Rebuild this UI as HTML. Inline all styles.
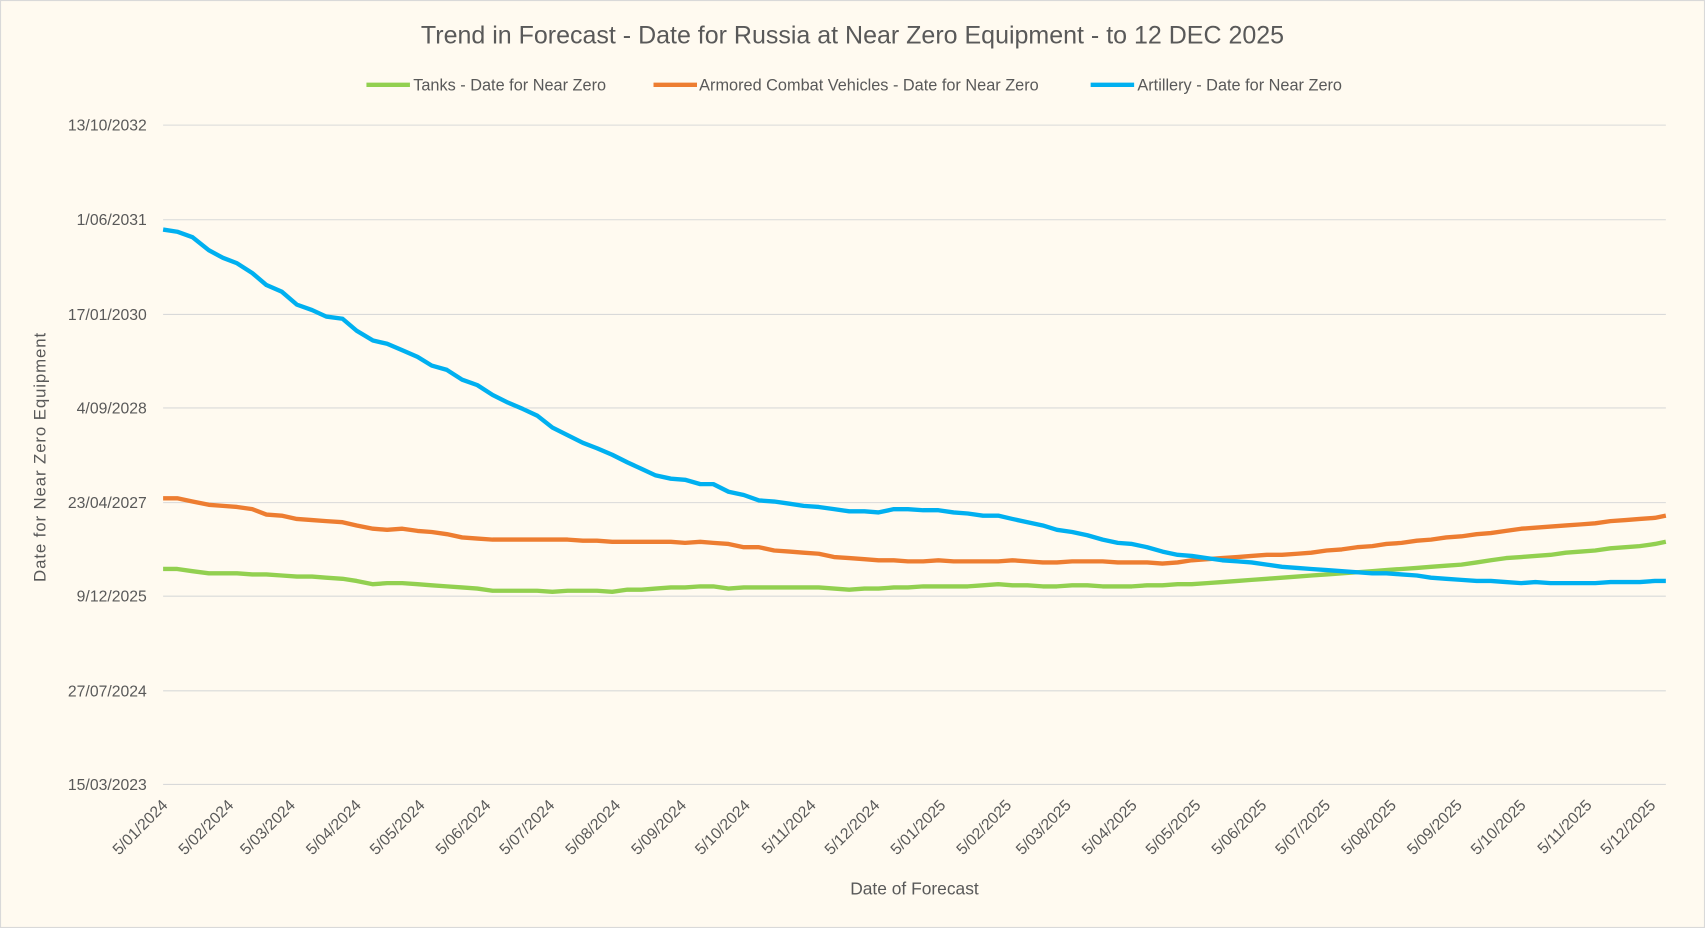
<!DOCTYPE html>
<html><head><style>
html,body{margin:0;padding:0;background:#fffaf0;}
svg{display:block;}
text{font-family:"Liberation Sans",sans-serif;fill:#595959;}
</style></head><body>
<svg width="1705" height="928" viewBox="0 0 1568 853" preserveAspectRatio="none">
<rect x="0.5" y="0.5" width="1567" height="852" fill="#fffaf0" stroke="#d9d9d9"/>
<text x="784" y="40" font-size="23" text-anchor="middle">Trend in Forecast - Date for Russia at Near Zero Equipment - to 12 DEC 2025</text>
<g font-size="15">
<line x1="337" y1="78" x2="377" y2="78" stroke="#92d050" stroke-width="4"/><text x="380" y="83">Tanks - Date for Near Zero</text>
<line x1="601" y1="78" x2="641" y2="78" stroke="#ed7d31" stroke-width="4"/><text x="643" y="83">Armored Combat Vehicles - Date for Near Zero</text>
<line x1="1003" y1="78" x2="1043" y2="78" stroke="#00b0f0" stroke-width="4"/><text x="1046" y="83">Artillery - Date for Near Zero</text>
</g>
<g stroke="#d9d9d9" stroke-width="1">
<line x1="150" x2="1532" y1="115" y2="115"/><line x1="150" x2="1532" y1="202" y2="202"/>
<line x1="150" x2="1532" y1="289" y2="289"/><line x1="150" x2="1532" y1="375" y2="375"/>
<line x1="150" x2="1532" y1="462" y2="462"/><line x1="150" x2="1532" y1="548" y2="548"/>
<line x1="150" x2="1532" y1="635" y2="635"/><line x1="150" x2="1532" y1="721" y2="721"/>
</g>
<g font-size="14.5" text-anchor="end">
<text x="135" y="120">13/10/2032</text><text x="135" y="207">1/06/2031</text>
<text x="135" y="294">17/01/2030</text><text x="135" y="380">4/09/2028</text>
<text x="135" y="467">23/04/2027</text><text x="135" y="553">9/12/2025</text>
<text x="135" y="640">27/07/2024</text><text x="135" y="726">15/03/2023</text>
</g>
<text transform="translate(42,420) rotate(-90)" font-size="15.5" letter-spacing="0.8" text-anchor="middle">Date for Near Zero Equipment</text>
<text x="841" y="822" font-size="16" text-anchor="middle">Date of Forecast</text>
<g id="xl" font-size="14.5" text-anchor="end"></g>
<g fill="none" stroke-width="4" stroke-linejoin="round">
<polyline id="g" stroke="#92d050"/>
<polyline id="o" stroke="#ed7d31"/>
<polyline id="b" stroke="#00b0f0"/>
</g>
</svg>
<script>
var xs=[150,163,177,192,205,218,232,245,259,273,287,300,315,328,343,356,370,384,397,411,425,439,453,467,481,494,508,522,536,549,563,577,590,603,617,630,644,656,670,684,698,712,726,739,753,767,781,795,808,822,835,849,863,877,890,904,918,931,945,959,972,986,1000,1014,1028,1041,1055,1069,1083,1096,1110,1124,1138,1151,1165,1179,1193,1206,1220,1234,1248,1262,1275,1289,1303,1316,1330,1344,1358,1371,1385,1399,1412,1426,1440,1454,1467,1481,1495,1508,1522,1532];
var B=[211,213,218,230,237,242,251,262,268,280,285,291,293,304,313,316,322,328,336,340,349,354,363,370,376,382,393,400,407,412,418,425,431,437,440,441,445,445,452,455,460,461,463,465,466,468,470,470,471,468,468,469,469,471,472,474,474,477,480,483,487,489,492,496,499,500,503,507,510,511,513,515,516,517,519,521,522,523,524,525,526,527,527,528,529,531,532,533,534,534,535,536,535,536,536,536,536,535,535,535,534,534];
var O=[458,458,461,464,465,466,468,473,474,477,478,479,480,483,486,487,486,488,489,491,494,495,496,496,496,496,496,496,497,497,498,498,498,498,498,499,498,499,500,503,503,506,507,508,509,512,513,514,515,515,516,516,515,516,516,516,516,515,516,517,517,516,516,516,517,517,517,518,517,515,514,513,512,511,510,510,509,508,506,505,503,502,500,499,497,496,494,493,491,490,488,486,485,484,483,482,481,479,478,477,476,474];
var G=[523,523,525,527,527,527,528,528,529,530,530,531,532,534,537,536,536,537,538,539,540,541,543,543,543,543,544,543,543,543,544,542,542,541,540,540,539,539,541,540,540,540,540,540,540,541,542,541,541,540,540,539,539,539,539,538,537,538,538,539,539,538,538,539,539,539,538,538,537,537,536,535,534,533,532,531,530,529,528,527,526,525,524,523,522,521,520,519,517,515,513,512,511,510,508,507,506,504,503,502,500,498];
function pts(a){return xs.map(function(x,i){return x+","+a[i]}).join(" ");}
document.getElementById('b').setAttribute('points',pts(B));
document.getElementById('o').setAttribute('points',pts(O));
document.getElementById('g').setAttribute('points',pts(G));
var offs=[0,31,60,91,121,152,182,213,244,274,305,335,366,397,425,456,486,517,547,578,609,639,670,700];
var labs=[];
for(var i=0;i<24;i++){var m=(i%12)+1,y=i<12?2024:2025;labs.push("5/"+(m<10?"0":"")+m+"/"+y);}
var g=document.getElementById('xl'),s="";
offs.forEach(function(d,i){var x=150+d*1382/707+5;s+='<text transform="translate('+x+',741) rotate(-45)">'+labs[i]+'</text>';});
g.innerHTML=s;
</script>
</body></html>
